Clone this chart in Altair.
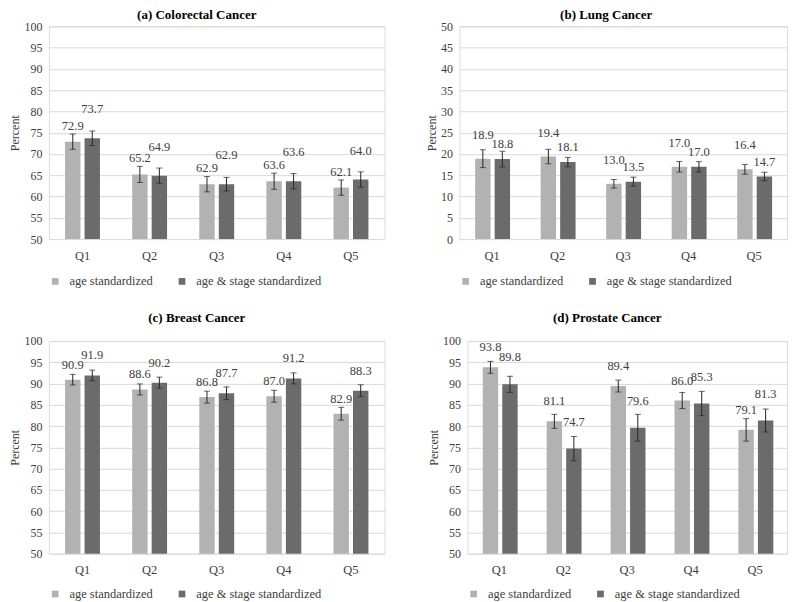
import altair as alt
import pandas as pd

# ---------------- data ----------------
quintiles = ["Q1", "Q2", "Q3", "Q4", "Q5"]
series = ["age standardized", "age & stage standardized"]

colorectal_age = [72.9, 65.2, 62.9, 63.6, 62.1]
colorectal_stage = [73.7, 64.9, 62.9, 63.6, 64.0]
colorectal_age_err = [1.8, 1.9, 1.8, 1.9, 1.8]
colorectal_stage_err = [1.7, 1.8, 1.6, 1.8, 1.8]

lung_age = [18.9, 19.4, 13.0, 17.0, 16.4]
lung_stage = [18.8, 18.1, 13.5, 17.0, 14.7]
lung_age_err = [2.1, 1.7, 1.0, 1.25, 1.15]
lung_stage_err = [1.85, 1.1, 1.05, 1.2, 1.0]

breast_age = [90.9, 88.6, 86.8, 87.0, 82.9]
breast_stage = [91.9, 90.2, 87.7, 91.2, 88.3]
breast_age_err = [1.25, 1.3, 1.4, 1.4, 1.5]
breast_stage_err = [1.25, 1.3, 1.5, 1.3, 1.4]

prostate_age = [93.8, 81.1, 89.4, 86.0, 79.1]
prostate_stage = [89.8, 74.7, 79.6, 85.3, 81.3]
prostate_age_err = [1.4, 1.65, 1.4, 1.9, 2.65]
prostate_stage_err = [1.9, 2.85, 3.15, 2.85, 2.7]

# ---------------- style ----------------
FONT = "Times New Roman, Liberation Serif, serif"
LIGHT = "#b2b2b2"
DARK = "#6b6b6b"
TXT = "#404040"
GRID = "#d9d9d9"
ERR = "#262626"
PLOT_H = 213


def make_df(age, stage, age_err, stage_err):
    rows = []
    for i, q in enumerate(quintiles):
        for s, v, e in ((series[0], age[i], age_err[i]), (series[1], stage[i], stage_err[i])):
            rows.append(dict(q=q, s=s, v=v, lo=v - e, hi=v + e, lab=f"{v:.1f}"))
    return pd.DataFrame(rows)


def panel(title, df, ymin, ymax, width, dy_age, dy_stage, title_offset, legend_offset):
    base = alt.Chart(df)
    x = alt.X("q:N", title=None, sort=quintiles,
              scale=alt.Scale(paddingInner=0.48, paddingOuter=0.24),
              axis=alt.Axis(labelAngle=0, domain=False, ticks=False, labelFont=FONT,
                            labelFontSize=12.5, labelColor=TXT, labelPadding=10, grid=False))
    xo = alt.XOffset("s:N", sort=series, scale=alt.Scale(paddingInner=0.21, paddingOuter=0))
    yscale = alt.Scale(domain=[ymin, ymax], zero=False, nice=False)
    yaxis = alt.Axis(values=list(range(ymin, ymax + 1, 5)), domain=False, ticks=False,
                     grid=True, gridColor=GRID, labelFont=FONT, labelFontSize=12,
                     labelColor=TXT, labelOverlap=False,
                     labelPadding=7, titlePadding=2, titleFont=FONT, titleFontSize=12,
                     titleFontWeight="normal", titleColor=TXT)

    def Y(field):
        return alt.Y(field, title="Percent", scale=yscale, axis=yaxis)

    color = alt.Color("s:N", sort=series, title=None,
                      scale=alt.Scale(domain=series, range=[LIGHT, DARK]),
                      legend=alt.Legend(orient="bottom", direction="horizontal",
                                        symbolType="square", symbolSize=45,
                                        symbolStrokeWidth=0, labelFont=FONT,
                                        labelFontSize=12.5, labelColor=TXT,
                                        columnPadding=22, labelOffset=8,
                                        offset=legend_offset, padding=0))
    bars = base.mark_bar().encode(
        x=x, xOffset=xo, y=Y("v:Q"), y2=alt.datum(ymin), color=color)
    rules = base.mark_rule(color=ERR, strokeWidth=1).encode(
        x=x, xOffset=xo, y=Y("lo:Q"), y2="hi:Q")
    cap_lo = base.mark_tick(color=ERR, size=6, thickness=1, orient="horizontal").encode(
        x=x, xOffset=xo, y=Y("lo:Q"))
    cap_hi = base.mark_tick(color=ERR, size=6, thickness=1, orient="horizontal").encode(
        x=x, xOffset=xo, y=Y("hi:Q"))
    t_age = base.transform_filter(alt.datum.s == series[0]).mark_text(
        dy=-dy_age, font=FONT, fontSize=12.5, color=TXT, baseline="middle").encode(
        x=x, xOffset=xo, y=Y("v:Q"), text="lab:N")
    t_stage = base.transform_filter(alt.datum.s == series[1]).mark_text(
        dy=-dy_stage, font=FONT, fontSize=12.5, color=TXT, baseline="middle").encode(
        x=x, xOffset=xo, y=Y("v:Q"), text="lab:N")
    return alt.layer(bars, rules, cap_lo, cap_hi, t_age, t_stage).properties(
        width=width, height=PLOT_H,
        title=alt.TitleParams(title, font=FONT, fontSize=13, fontWeight="bold",
                              color="#000000", anchor="middle", frame="bounds",
                              offset=title_offset))


pa = panel("(a) Colorectal Cancer",
           make_df(colorectal_age, colorectal_stage, colorectal_age_err, colorectal_stage_err),
           50, 100, 336, 16, 29, -2, 13)
pb = panel("(b) Lung Cancer",
           make_df(lung_age, lung_stage, lung_age_err, lung_stage_err),
           0, 50, 328, 24, 15, -2, 13)
pc = panel("(c) Breast Cancer",
           make_df(breast_age, breast_stage, breast_age_err, breast_stage_err),
           50, 100, 336, 15, 20, 10, 11)
pd_ = panel("(d) Prostate Cancer",
            make_df(prostate_age, prostate_stage, prostate_age_err, prostate_stage_err),
            50, 100, 320, 20, 27, 10, 11)

row1 = alt.hconcat(pa, pb, spacing=39).resolve_scale(color="independent").resolve_legend(color="independent")
row2 = alt.hconcat(pc, pd_, spacing=41).resolve_scale(color="independent").resolve_legend(color="independent")

chart = alt.vconcat(row1, row2, spacing=22).resolve_scale(color="independent").resolve_legend(
    color="independent").properties(padding=0).configure_view(stroke=None).configure(
    background="white")

chart.save("out.html", embed_options={"renderer": "svg", "actions": False})
